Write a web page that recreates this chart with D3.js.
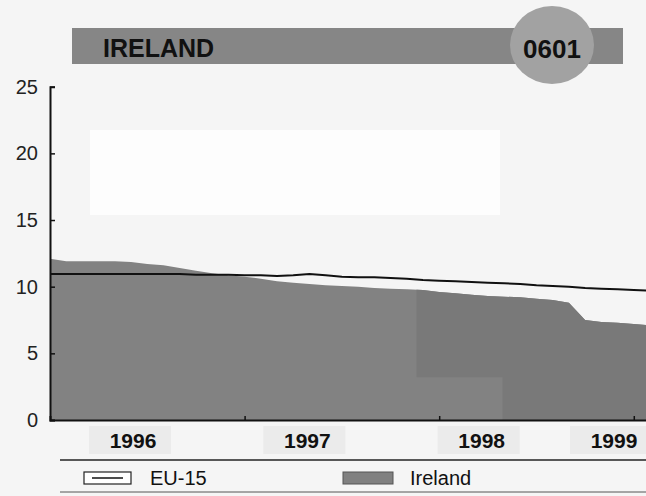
<!DOCTYPE html>
<html>
<head>
<meta charset="utf-8">
<style>
body { margin: 0; background: #f5f5f5; }
svg { display: block; font-family: "Liberation Sans", Arial, sans-serif; }
</style>
</head>
<body>
<svg width="646" height="496"></svg>
<script src="https://cdn.jsdelivr.net/npm/d3@7"></script>
<script>

// monthly values, Jan 1996 (month 0) onwards
var months = d3.range(0, 38);
var ireland = [12.1, 11.9, 11.9, 11.9, 11.9, 11.85, 11.7, 11.6, 11.4, 11.2, 11.0, 10.85,
               10.75, 10.6, 10.4, 10.3, 10.2, 10.1, 10.05, 10.0, 9.9, 9.85, 9.8, 9.75,
               9.6, 9.5, 9.4, 9.3, 9.25, 9.2, 9.1, 9.0, 8.8, 7.5, 7.35, 7.3, 7.2, 7.1];
var eu15 = [10.95, 10.95, 10.95, 10.95, 10.95, 10.95, 10.95, 10.95, 10.95, 10.9, 10.9, 10.9,
            10.85, 10.85, 10.8, 10.85, 10.95, 10.85, 10.75, 10.7, 10.7, 10.65, 10.6, 10.5,
            10.45, 10.4, 10.35, 10.3, 10.25, 10.2, 10.1, 10.05, 10.0, 9.9, 9.85, 9.8, 9.75, 9.7];
var years = ["1996", "1997", "1998", "1999"];
var yTicks = [0, 5, 10, 15, 20, 25];

var svg = d3.select("svg");

var x = d3.scaleLinear().domain([0, 37]).range([50, 650]);
var y = d3.scaleLinear().domain([0, 25]).range([420, 86.7]);
// year labels sit on their own, evenly spaced row
var xl = d3.scalePoint().domain(years).range([133, 656]);

// scan artefact: whiter patch on the paper
svg.append("rect").attr("x", 90).attr("y", 130).attr("width", 410).attr("height", 85).attr("fill", "#fdfdfd");

/* title banner */
svg.append("rect").attr("x", 72).attr("y", 28).attr("width", 551).attr("height", 36).attr("fill", "#868686");
svg.append("ellipse").attr("cx", 552).attr("cy", 45).attr("rx", 42).attr("ry", 39).attr("fill", "#a2a2a2");
svg.append("text").attr("x", 103).attr("y", 57).attr("font-size", 25).attr("font-weight", "bold")
    .attr("fill", "#111").text("IRELAND");
svg.append("text").attr("x", 552).attr("y", 58).attr("font-size", 26).attr("font-weight", "bold")
    .attr("text-anchor", "middle").attr("fill", "#111").text("0601");

/* Ireland area */
svg.append("clipPath").attr("id", "plot")
  .append("rect").attr("x", 50).attr("y", 0).attr("width", 596).attr("height", 420);

var area = d3.area()
    .x(function(d, i) { return x(months[i]); })
    .y0(y(0))
    .y1(function(d) { return y(d); });

svg.append("clipPath").attr("id", "areaClip")
  .append("path").attr("d", area(ireland));

var plot = svg.append("g").attr("clip-path", "url(#plot)");
plot.append("path").attr("d", area(ireland)).attr("fill", "#828282");

// darker speckled patch from the scan
plot.append("path")
    .attr("clip-path", "url(#areaClip)")
    .attr("fill", "#797979")
    .attr("d", "M" + x(22.6) + "," + y(13) + "V" + y(3.2) + "H" + x(27.9) + "V" + y(0) + "H" + x(37) + "V" + y(13) + "Z");

/* EU-15 line */
plot.append("path")
    .attr("d", d3.line().x(function(d, i) { return x(months[i]); }).y(function(d) { return y(d); })(eu15))
    .attr("fill", "none").attr("stroke", "#111").attr("stroke-width", 2);

/* axes */
var yAxis = svg.append("g").attr("transform", "translate(50,0)")
    .call(d3.axisLeft(y).tickValues(yTicks).tickSize(-5).tickPadding(12));
yAxis.select(".domain").attr("stroke", "#111").attr("stroke-width", 2);
yAxis.selectAll("line").attr("stroke", "#111").attr("stroke-width", 1.5);
yAxis.selectAll("text").attr("font-size", 20).attr("fill", "#222").attr("font-family", "Liberation Sans, Arial");

var xAxis = svg.append("g").attr("transform", "translate(0,420)")
    .call(d3.axisBottom(x).tickValues([12, 24, 36]).tickSize(-4).tickFormat(""));
xAxis.select(".domain").attr("stroke", "#111").attr("stroke-width", 2);
xAxis.selectAll("line").attr("stroke", "#111").attr("stroke-width", 1.5);

/* year labels in grey boxes */
var yl = svg.append("g").selectAll("g").data(years).enter().append("g")
    .attr("transform", function(d) { return "translate(" + Math.min(xl(d), 614) + ",0)"; });
yl.append("rect").attr("x", -44).attr("y", 426).attr("width", 82).attr("height", 28).attr("fill", "#ebebeb");
yl.append("text").attr("y", 448).attr("text-anchor", "middle").attr("font-size", 21)
    .attr("font-weight", "bold").attr("fill", "#111").text(function(d) { return d; });

/* legend */
svg.append("line").attr("x1", 60).attr("x2", 646).attr("y1", 460).attr("y2", 460)
    .attr("stroke", "#222").attr("stroke-width", 1.5);
svg.append("line").attr("x1", 60).attr("x2", 646).attr("y1", 492).attr("y2", 492)
    .attr("stroke", "#555").attr("stroke-width", 1);

svg.append("rect").attr("x", 84).attr("y", 472).attr("width", 47).attr("height", 12)
    .attr("fill", "#fff").attr("stroke", "#222").attr("stroke-width", 1.2);
svg.append("line").attr("x1", 92).attr("x2", 123).attr("y1", 478).attr("y2", 478)
    .attr("stroke", "#111").attr("stroke-width", 1.5);
svg.append("text").attr("x", 150).attr("y", 485).attr("font-size", 20).attr("fill", "#111").text("EU-15");

svg.append("rect").attr("x", 343).attr("y", 472).attr("width", 50).attr("height", 12)
    .attr("fill", "#808080").attr("stroke", "#555").attr("stroke-width", 1);
svg.append("text").attr("x", 410).attr("y", 485).attr("font-size", 20).attr("fill", "#111").text("Ireland");

</script>
</body>
</html>
